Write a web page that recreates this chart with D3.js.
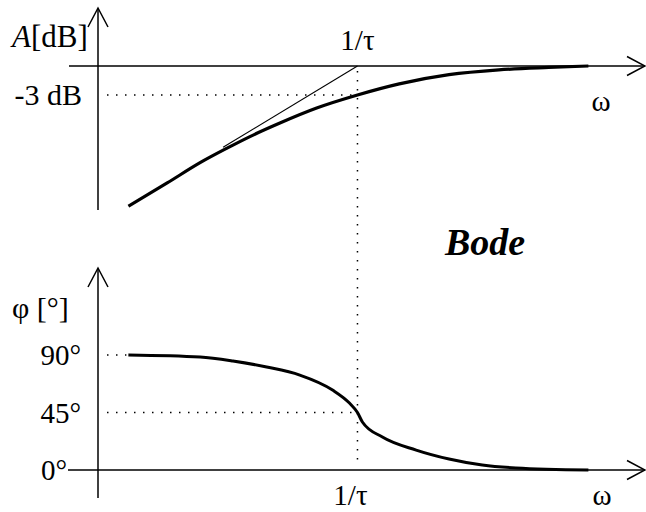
<!DOCTYPE html>
<html>
<head>
<meta charset="utf-8">
<script src="https://cdn.jsdelivr.net/npm/d3@7/dist/d3.min.js"></script>
<style>
  html, body { margin: 0; padding: 0; background: #fff; }
  svg { display: block; }
  text { font-family: "Liberation Serif", "Times New Roman", serif; fill: #000; }
</style>
</head>
<body>
<svg id="chart" width="646" height="512"></svg>
<script>
// Normalised frequency ω/ωc (ωc = 1/τ) and the magnitude response in dB
const magOmega = [0.193, 0.255, 0.323, 0.392, 0.462, 0.573, 0.746, 1.0, 1.35, 1.93, 2.76, 3.95, 5.25];
const magDb    = [-14.5, -12.1, -10.0, -8.5, -7.3, -5.9, -4.35, -3.0, -1.85, -0.9, -0.4, -0.15, 0.0];

// Low-frequency asymptote (+20 dB/decade) meeting 0 dB at the corner
const asymOmega = [0.381, 1.0];
const asymDb    = [-8.4, 0.0];

// Phase response in degrees
const phaseOmega = [0.193, 0.323, 0.409, 0.521, 0.661, 0.836, 0.944, 1.0, 1.036, 1.196, 1.524, 1.93, 2.45, 3.12, 5.25];
const phaseDeg   = [90, 88.4, 85.3, 80.6, 74.3, 62.6, 52.4, 45, 37.6, 25.8, 15.6, 8.6, 3.9, 1.6, 0];

// Labelled levels on the vertical axes
const magTickValues   = [-3];
const magTickLabels   = ["-3 dB"];
const phaseTickValues = [90, 45, 0];
const phaseTickLabels = ["90°", "45°", "0°"];
const cornerOmega = 1.0;
const cornerLabel = "1/τ";

const svg = d3.select("#chart");
const FS = 29;

// Shared logarithmic frequency scale
const x = d3.scaleLog().domain([0.126, 7.94]).range([69, 646]);
const axisX = 98;

const yMag = d3.scaleLinear().domain([-15, 0]).range([211, 66]);
const yPh  = d3.scaleLinear().domain([0, 90]).range([470, 355]);

function arrowUp(g, xp, yTip) {
  g.append("path")
    .attr("d", `M${xp - 10},${yTip + 19} L${xp},${yTip} L${xp + 10},${yTip + 19}`)
    .attr("fill", "none").attr("stroke", "#000").attr("stroke-width", 1.5);
}
function arrowRight(g, xTip, yp) {
  g.append("path")
    .attr("d", `M${xTip - 18},${yp - 9.5} L${xTip},${yp} L${xTip - 18},${yp + 9.5}`)
    .attr("fill", "none").attr("stroke", "#000").attr("stroke-width", 1.5);
}
const dotted = sel => sel.attr("stroke", "#000").attr("stroke-width", 1.5)
  .attr("stroke-dasharray", "1.5 7.5").attr("fill", "none");

// ---------- Magnitude panel ----------
const gm = svg.append("g");

// dotted guides: -3 dB level and the corner frequency (runs through both panels)
gm.append("line").call(dotted)
  .attr("x1", axisX + 9).attr("x2", x(cornerOmega))
  .attr("y1", yMag(magTickValues[0])).attr("y2", yMag(magTickValues[0]));
gm.append("line").call(dotted)
  .attr("x1", x(cornerOmega)).attr("x2", x(cornerOmega))
  .attr("y1", yMag(0) + 5).attr("y2", yPh(0) - 7);

// axes
gm.append("line").attr("x1", axisX).attr("x2", axisX).attr("y1", 9).attr("y2", 210)
  .attr("stroke", "#000").attr("stroke-width", 1.5);
arrowUp(gm, axisX, 8);
gm.append("line").attr("x1", 69).attr("x2", 645).attr("y1", yMag(0)).attr("y2", yMag(0))
  .attr("stroke", "#000").attr("stroke-width", 1.5);
arrowRight(gm, 645, yMag(0));

// asymptote
gm.append("path")
  .datum(asymOmega.map((w, i) => [w, asymDb[i]]))
  .attr("d", d3.line().x(d => x(d[0])).y(d => yMag(d[1])))
  .attr("fill", "none").attr("stroke", "#000").attr("stroke-width", 1.1);

// magnitude curve
gm.append("path")
  .datum(magOmega.map((w, i) => [w, magDb[i]]))
  .attr("d", d3.line().x(d => x(d[0])).y(d => yMag(d[1])).curve(d3.curveMonotoneX))
  .attr("fill", "none").attr("stroke", "#000").attr("stroke-width", 3.2)
  .attr("stroke-linecap", "butt");

// labels
const aLabel = gm.append("text").attr("x", 12).attr("y", 47).attr("font-size", 31);
aLabel.append("tspan").attr("font-style", "italic").text("A");
aLabel.append("tspan").text("[dB]");
gm.selectAll("text.tick").data(magTickValues).join("text")
  .attr("class", "tick")
  .attr("x", 82).attr("y", d => yMag(d) + 10)
  .attr("text-anchor", "end").attr("font-size", 30)
  .text((d, i) => magTickLabels[i]);
gm.append("text").attr("x", x(cornerOmega)).attr("y", 50)
  .attr("text-anchor", "middle").attr("font-size", FS).text(cornerLabel);
gm.append("text").attr("x", 601).attr("y", 111)
  .attr("text-anchor", "middle").attr("font-size", FS).text("ω");

// title
svg.append("text").attr("x", 445).attr("y", 255)
  .attr("font-size", 38).attr("font-weight", "bold").attr("font-style", "italic")
  .text("Bode");

// ---------- Phase panel ----------
const gp = svg.append("g");

gp.append("line").call(dotted)
  .attr("x1", axisX + 9).attr("x2", x(phaseOmega[0]) - 2)
  .attr("y1", yPh(90)).attr("y2", yPh(90));
gp.append("line").call(dotted)
  .attr("x1", axisX + 9).attr("x2", x(cornerOmega))
  .attr("y1", yPh(45)).attr("y2", yPh(45));

gp.append("line").attr("x1", axisX).attr("x2", axisX).attr("y1", 269).attr("y2", 498)
  .attr("stroke", "#000").attr("stroke-width", 1.5);
arrowUp(gp, axisX, 268);
gp.append("line").attr("x1", 68).attr("x2", 645).attr("y1", yPh(0)).attr("y2", yPh(0))
  .attr("stroke", "#000").attr("stroke-width", 1.5);
arrowRight(gp, 645, yPh(0));

gp.append("path")
  .datum(phaseOmega.map((w, i) => [w, phaseDeg[i]]))
  .attr("d", d3.line().x(d => x(d[0])).y(d => yPh(d[1])).curve(d3.curveMonotoneX))
  .attr("fill", "none").attr("stroke", "#000").attr("stroke-width", 3)
  .attr("stroke-linecap", "butt");

gp.append("text").attr("x", 12).attr("y", 318).attr("font-size", 30).text("φ [°]");
gp.selectAll("text.tick").data(phaseTickValues).join("text")
  .attr("class", "tick")
  .attr("x", d => d === 0 ? 67 : 81).attr("y", d => yPh(d) + 10)
  .attr("text-anchor", "end").attr("font-size", FS)
  .text((d, i) => phaseTickLabels[i]);
gp.append("text").attr("x", x(cornerOmega) - 7).attr("y", 505)
  .attr("text-anchor", "middle").attr("font-size", FS).text(cornerLabel);
gp.append("text").attr("x", 602).attr("y", 505)
  .attr("text-anchor", "middle").attr("font-size", FS).text("ω");
</script>
</body>
</html>
